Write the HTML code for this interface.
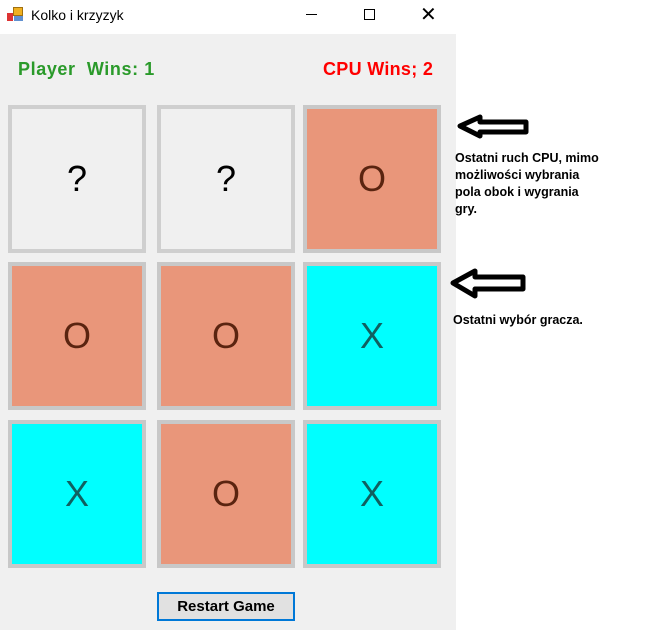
<!DOCTYPE html>
<html><head><meta charset="utf-8"><style>
body{margin:0;width:659px;height:630px;background:#fff;position:relative;overflow:hidden;font-family:"Liberation Sans",sans-serif}
.abs{position:absolute}
.tile{position:absolute;width:130px;height:140px;border:4px solid #c8c8c8;box-sizing:content-box;display:flex;align-items:center;justify-content:center;font-size:36px}
.o{background:#e9967a;color:#5a2410}
.x{background:#00ffff;color:#106060}
.q{background:#f0f0f0;color:#000;border-color:#cfcfcf}
.note{position:absolute;left:455px;font-weight:bold;font-size:12.5px;line-height:17px;color:#000;white-space:nowrap}
</style></head><body>
<div class="abs" style="left:0;top:0;width:456px;height:34px;background:#fff">
  <div class="abs" style="left:7px;top:6px;width:16px;height:16px">
    <div class="abs" style="left:0;top:7px;width:6px;height:8px;background:#d33"></div>
    <div class="abs" style="left:6px;top:1px;width:10px;height:9px;background:#f0b020;border:1px solid #a07010;box-sizing:border-box"></div>
    <div class="abs" style="left:7px;top:10px;width:9px;height:5px;background:#6090d0"></div>
  </div>
  <div class="abs" style="left:31px;top:7px;font-size:14px">Kolko i krzyzyk</div>
  <div class="abs" style="left:306px;top:14px;width:11px;height:1px;background:#000"></div>
  <div class="abs" style="left:364px;top:9px;width:9px;height:9px;border:1px solid #000"></div>
  <div class="abs" style="left:420px;top:3px;font-size:20px;line-height:24px">✕</div>
</div>
<div class="abs" style="left:0;top:34px;width:456px;height:596px;background:#f0f0f0">
  <div class="abs" style="left:18px;top:25px;font-size:18px;font-weight:bold;color:#2a9a2a;letter-spacing:0.6px">Player&nbsp; Wins: 1</div>
  <div class="abs" style="left:323px;top:25px;font-size:18px;font-weight:bold;color:#ff0000;letter-spacing:0.3px">CPU Wins; 2</div>
</div>
<div class="tile q" style="left:8px;top:105px">?</div>
<div class="tile q" style="left:157px;top:105px">?</div>
<div class="tile o" style="left:303px;top:105px">O</div>
<div class="tile o" style="left:8px;top:262px">O</div>
<div class="tile o" style="left:157px;top:262px">O</div>
<div class="tile x" style="left:303px;top:262px">X</div>
<div class="tile x" style="left:8px;top:420px">X</div>
<div class="tile o" style="left:157px;top:420px">O</div>
<div class="tile x" style="left:303px;top:420px">X</div>
<div class="abs" style="left:157px;top:592px;width:138px;height:29px;box-sizing:border-box;border:2px solid #0078d7;background:#e1e1e1;font-weight:bold;font-size:15px;text-align:center;line-height:25px">Restart Game</div>
<svg class="abs" style="left:450px;top:110px" width="90" height="35">
  <polygon points="10,16 30,7 30,12 76,12 76,22 30,22 30,26" fill="none" stroke="#000" stroke-width="5" stroke-linejoin="round"/>
</svg>
<svg class="abs" style="left:445px;top:265px" width="90" height="40">
  <polygon points="8,18 30,6 30,12 78,12 78,24 30,24 30,31" fill="none" stroke="#000" stroke-width="5" stroke-linejoin="round"/>
</svg>
<div class="note" style="top:150px">Ostatni ruch CPU, mimo<br>możliwości wybrania<br>pola obok i wygrania<br>gry.</div>
<div class="note" style="left:453px;top:312px">Ostatni wybór gracza.</div>
</body></html>
